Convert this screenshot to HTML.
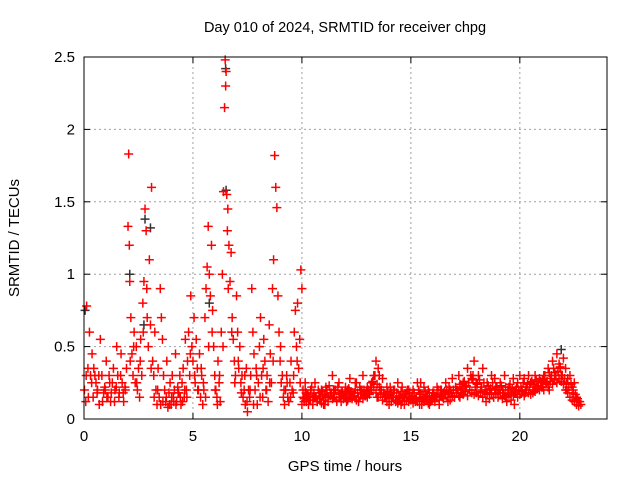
<!DOCTYPE html>
<html><head><meta charset="utf-8"><style>
body{margin:0;background:#fff;}
svg{display:block;font-family:"Liberation Sans",sans-serif;}
</style></head><body>
<svg id="chart" width="640" height="480">
<text x="345" y="32" font-size="14.5" text-anchor="middle">Day 010 of 2024, SRMTID for receiver chpg</text>
<text x="345" y="471" font-size="15" text-anchor="middle">GPS time / hours</text>
<text transform="translate(19,238) rotate(-90)" font-size="15" text-anchor="middle">SRMTID / TECUs</text>
<g id="grid"></g>
<g id="marks"></g>
<rect x="84" y="57" width="523" height="362" fill="none" stroke="#000" stroke-width="1"/>
<g id="ticks"></g>
</svg>
<script>
const xTicks=[0,5,10,15,20];
const yTicks=[0,0.5,1,1.5,2,2.5];
const yTickLabels=["0","0.5","1","1.5","2","2.5"];
const hours=[
0.02,0.08,0.12,0.18,0.25,0.3,0.37,0.42,0.5,0.55,0.62,0.7,0.75,0.82,0.9,0.95,1.02,1.1,1.15,1.22,1.3,1.35,1.42,1.5,1.55,1.62,1.7,1.75,1.82,1.9,1.95,
2.02,2.05,2.08,2.1,2.15,2.2,2.25,2.3,2.35,2.4,2.45,2.5,2.55,2.6,2.65,2.7,2.75,2.8,2.85,2.9,2.95,3.0,3.05,3.1,3.15,3.2,3.25,3.3,
3.35,3.4,3.45,3.5,3.55,3.6,3.65,3.7,3.75,3.8,3.85,3.9,3.95,4.0,4.05,4.1,4.15,4.2,4.25,4.3,4.35,4.4,4.45,4.5,4.55,4.6,4.65,4.7,4.75,
4.8,4.85,4.9,4.95,5.0,5.05,5.1,5.15,5.2,5.25,5.3,5.35,5.4,5.45,5.5,5.55,5.6,5.65,5.7,5.75,5.8,5.85,5.9,5.95,6.0,6.05,6.1,6.15,6.2,6.25,
6.3,6.35,6.4,6.45,6.48,6.5,6.52,6.55,6.58,6.6,6.65,6.7,6.75,6.8,6.85,6.9,6.95,7.0,7.05,7.1,7.15,7.2,7.25,7.3,7.35,7.4,7.45,7.5,7.55,
7.6,7.65,7.7,7.75,7.8,7.85,7.9,7.95,8.0,8.05,8.1,8.15,8.2,8.25,8.3,8.35,8.4,8.45,8.5,8.55,8.6,8.65,8.7,8.75,8.8,8.85,8.9,8.95,9.0,9.05,9.1,9.15,9.2,9.25,9.3,9.35,9.4,9.45,9.5,9.55,9.6,9.65,9.7,9.75,9.8,9.85,9.9,9.95,10.0,10.05,
10.1,10.2,10.3,10.4,10.5,10.6,10.7,10.8,10.9,11.0,
11.1,11.2,11.3,11.4,11.5,11.6,11.7,11.8,11.9,12.0,
12.1,12.2,12.3,12.4,12.5,12.6,12.7,12.8,12.9,13.0,
13.1,13.2,13.3,13.4,13.5,13.6,13.7,13.8,13.9,14.0,
14.1,14.2,14.3,14.4,14.5,14.6,14.7,14.8,14.9,15.0,
15.1,15.2,15.3,15.4,15.5,15.6,15.7,15.8,15.9,16.0,
16.1,16.2,16.3,16.4,16.5,16.6,16.7,16.8,16.9,17.0,
17.1,17.2,17.3,17.4,17.5,17.6,17.7,17.8,17.9,18.0,
18.1,18.2,18.3,18.4,18.5,18.6,18.7,18.8,18.9,19.0,
19.1,19.2,19.3,19.4,19.5,19.6,19.7,19.8,19.9,20.0,
20.1,20.2,20.3,20.4,20.5,20.6,20.7,20.8,20.9,21.0,
21.1,21.2,21.3,21.4,21.5,21.6,21.7,21.8,21.9,22.0,
22.1,22.2,22.3,22.4,22.5,22.6,22.7,22.8,
10.15,10.55,11.05,11.45,12.05,12.45,12.85,13.45,13.55,14.05,14.55,15.05,15.45,15.85,16.35,16.75,17.25,17.65,17.85,18.45,18.85,19.35,19.75,20.25,20.65,21.05,21.35,21.65,21.85,22.15,22.45];
const tecu=[
0.2,0.12,0.78,0.35,0.6,0.3,0.45,0.15,0.3,0.25,0.2,0.1,0.55,0.3,0.18,0.22,0.4,0.15,0.3,0.12,0.25,0.35,0.2,0.5,0.3,0.18,0.45,0.25,0.12,0.2,0.35,
1.33,1.83,1.2,0.95,0.7,0.45,0.3,0.6,0.25,0.5,0.2,0.35,0.15,0.55,0.3,0.8,0.95,1.45,1.3,0.7,0.5,1.1,0.65,1.6,0.4,0.3,0.6,0.2,
0.1,0.35,0.15,0.9,0.7,0.55,0.3,0.2,0.12,0.4,0.08,0.18,0.25,0.1,0.3,0.15,0.2,0.45,0.12,0.22,0.18,0.3,0.1,0.25,0.35,0.15,0.55,0.2,0.4,
0.6,0.3,0.85,0.5,0.4,0.7,0.25,0.55,0.35,0.2,0.45,0.15,0.3,0.1,0.2,0.7,0.9,1.05,1.33,1.0,0.85,1.2,0.75,0.5,0.3,0.2,0.15,0.4,0.25,0.12,
0.6,1.0,1.57,2.15,2.48,2.3,2.4,1.55,1.3,1.45,1.2,0.95,1.15,0.7,0.55,0.4,0.3,0.85,0.6,0.35,0.5,0.25,0.3,0.15,0.2,0.1,0.35,0.05,0.2,
0.15,0.3,0.9,0.6,0.45,0.2,0.35,0.1,0.25,0.5,0.7,0.3,0.15,0.55,0.4,0.2,0.3,0.12,0.65,0.45,0.25,0.9,1.1,1.82,1.6,1.46,0.85,0.6,0.4,0.25,0.3,0.15,0.1,0.2,0.3,0.15,0.12,0.25,0.4,0.2,0.18,0.6,0.75,0.5,0.8,0.35,0.55,1.03,0.9,0.2,
0.12,0.18,0.1,0.2,0.15,0.25,0.12,0.18,0.2,0.1,
0.22,0.15,0.18,0.3,0.2,0.12,0.25,0.18,0.15,0.22,
0.2,0.28,0.15,0.18,0.25,0.12,0.2,0.3,0.16,0.22,
0.18,0.25,0.3,0.4,0.35,0.2,0.28,0.15,0.22,0.1,
0.18,0.2,0.12,0.25,0.15,0.22,0.1,0.18,0.2,0.14,
0.2,0.12,0.25,0.18,0.1,0.22,0.15,0.2,0.12,0.18,
0.15,0.22,0.1,0.2,0.18,0.25,0.12,0.2,0.28,0.15,
0.2,0.3,0.18,0.25,0.22,0.35,0.2,0.28,0.4,0.25,
0.3,0.2,0.35,0.18,0.25,0.2,0.3,0.15,0.22,0.18,
0.25,0.2,0.3,0.12,0.22,0.18,0.28,0.2,0.25,0.3,
0.2,0.28,0.22,0.3,0.25,0.18,0.3,0.22,0.28,0.25,
0.3,0.25,0.35,0.28,0.4,0.32,0.45,0.38,0.3,0.42,
0.35,0.28,0.3,0.22,0.25,0.15,0.12,0.1,
0.25,0.15,0.1,0.2,0.12,0.25,0.2,0.15,0.3,0.22,0.1,0.15,0.25,0.1,0.2,0.18,0.15,0.25,0.3,0.12,0.28,0.15,0.1,0.18,0.2,0.22,0.2,0.3,0.35,0.2,0.18];
const earlyHours=[0.1,0.2,0.35,0.45,0.6,0.68,0.85,0.98,1.05,1.18,1.25,1.4,1.48,1.6,1.68,1.8,1.88,2.12,2.28,2.42,2.58,2.72,2.88,3.08,3.22,3.38,3.52,3.62,3.78,3.92,4.02,4.12,4.22,4.32,4.42,4.52,4.62,4.72,4.88,5.08,5.22,5.38,5.48,5.58,5.72,5.88,6.02,6.12,6.22,6.38,6.62,6.78,6.92,7.08,7.22,7.38,7.48,7.62,7.78,7.92,8.08,8.22,8.38,8.52,8.68,9.02,9.18,9.32,9.48,9.62,9.78,9.92];
const earlyTecu=[0.3,0.15,0.25,0.35,0.18,0.3,0.12,0.2,0.15,0.25,0.18,0.12,0.22,0.15,0.3,0.18,0.22,0.4,0.5,0.25,0.4,0.6,0.9,0.35,0.15,0.2,0.1,0.12,0.15,0.1,0.15,0.12,0.1,0.18,0.15,0.12,0.2,0.15,0.45,0.3,0.2,0.35,0.25,0.15,0.5,0.6,0.2,0.1,0.3,0.5,0.9,0.6,0.25,0.4,0.18,0.3,0.12,0.2,0.1,0.3,0.15,0.35,0.2,0.25,0.4,0.5,0.2,0.25,0.15,0.3,0.4,0.25];
const bandHoursB=[10.05,10.15,10.25,10.35,10.45,10.55,10.65,10.75,10.85,10.95,11.05,11.15,11.25,11.35,11.45,11.55,11.65,11.75,11.85,11.95,12.05,12.15,12.25,12.35,12.45,12.55,12.65,12.75,12.85,12.95,13.05,13.15,13.25,13.35,13.45,13.55,13.65,13.75,13.85,13.95,14.05,14.15,14.25,14.35,14.45,14.55,14.65,14.75,14.85,14.95,15.05,15.15,15.25,15.35,15.45,15.55,15.65,15.75,15.85,15.95,16.05,16.15,16.25,16.35,16.45,16.55,16.65,16.75,16.85,16.95,17.05,17.15,17.25,17.35,17.45,17.55,17.65,17.75,17.85,17.95,18.05,18.15,18.25,18.35,18.45,18.55,18.65,18.75,18.85,18.95,19.05,19.15,19.25,19.35,19.45,19.55,19.65,19.75,19.85,19.95,20.05,20.15,20.25,20.35,20.45,20.55,20.65,20.75,20.85,20.95,21.05,21.15,21.25,21.35,21.45,21.55,21.65,21.75,21.85,21.95,22.05,22.15,22.25,22.35,22.45,22.55,22.65,22.75];
const bandTecuB=[0.15,0.2,0.17,0.13,0.22,0.18,0.15,0.2,0.16,0.19,0.17,0.2,0.23,0.18,0.15,0.2,0.22,0.17,0.19,0.16,0.18,0.21,0.19,0.16,0.2,0.18,0.22,0.2,0.17,0.19,0.2,0.22,0.26,0.3,0.24,0.22,0.2,0.18,0.16,0.19,0.17,0.15,0.2,0.18,0.16,0.19,0.15,0.17,0.2,0.18,0.16,0.18,0.15,0.2,0.17,0.14,0.19,0.16,0.18,0.15,0.18,0.16,0.2,0.17,0.15,0.19,0.2,0.22,0.18,0.2,0.22,0.2,0.24,0.21,0.26,0.23,0.25,0.3,0.27,0.22,0.24,0.27,0.22,0.25,0.2,0.23,0.21,0.25,0.2,0.22,0.2,0.23,0.18,0.22,0.2,0.24,0.21,0.19,0.22,0.2,0.22,0.25,0.2,0.24,0.22,0.26,0.24,0.27,0.23,0.26,0.27,0.3,0.26,0.32,0.3,0.35,0.3,0.33,0.36,0.3,0.28,0.25,0.22,0.24,0.2,0.17,0.14,0.12];
const bandHoursC=[10.0,10.1,10.2,10.3,10.4,10.5,10.6,10.7,10.8,10.9,11.0,11.1,11.2,11.3,11.4,11.5,11.6,11.7,11.8,11.9,12.0,12.1,12.2,12.3,12.4,12.5,12.6,12.7,12.8,12.9,13.0,13.1,13.2,13.3,13.4,13.5,13.6,13.7,13.8,13.9,14.0,14.1,14.2,14.3,14.4,14.5,14.6,14.7,14.8,14.9,15.0,15.1,15.2,15.3,15.4,15.5,15.6,15.7,15.8,15.9,16.0,16.1,16.2,16.3,16.4,16.5,16.6,16.7,16.8,16.9,17.0,17.1,17.2,17.3,17.4,17.5,17.6,17.7,17.8,17.9,18.0,18.1,18.2,18.3,18.4,18.5,18.6,18.7,18.8,18.9,19.0,19.1,19.2,19.3,19.4,19.5,19.6,19.7,19.8,19.9,20.0,20.1,20.2,20.3,20.4,20.5,20.6,20.7,20.8,20.9,21.0,21.1,21.2,21.3,21.4,21.5,21.6,21.7,21.8,21.9,22.0,22.1,22.2,22.3,22.4,22.5,22.6,22.7];
const bandTecuC=[0.1,0.14,0.12,0.16,0.13,0.1,0.15,0.12,0.14,0.11,0.13,0.15,0.12,0.16,0.14,0.18,0.13,0.15,0.12,0.14,0.15,0.13,0.17,0.14,0.16,0.13,0.15,0.18,0.14,0.16,0.15,0.17,0.2,0.22,0.18,0.15,0.17,0.13,0.15,0.12,0.14,0.12,0.15,0.13,0.11,0.14,0.12,0.15,0.13,0.12,0.13,0.11,0.14,0.12,0.1,0.13,0.12,0.15,0.11,0.13,0.14,0.12,0.15,0.13,0.16,0.14,0.17,0.15,0.13,0.16,0.15,0.18,0.16,0.2,0.17,0.19,0.16,0.2,0.18,0.17,0.18,0.16,0.19,0.15,0.18,0.17,0.14,0.18,0.15,0.17,0.15,0.18,0.14,0.16,0.15,0.17,0.13,0.16,0.18,0.15,0.17,0.19,0.16,0.2,0.18,0.17,0.2,0.19,0.21,0.2,0.22,0.2,0.24,0.22,0.26,0.24,0.27,0.25,0.28,0.26,0.24,0.2,0.18,0.15,0.13,0.12,0.1,0.09];
const darkHours=[0.05,2.1,2.8,2.75,6.5,6.52,21.9,3.05,5.75];
const darkTecu=[0.75,1.0,1.38,0.65,2.42,1.58,0.48,1.32,0.8];

const NS="http://www.w3.org/2000/svg";
const X0=84,X1=607,Y0=419,Y1=57,XMAX=24,YMAX=2.5;
function xs(h){return X0+h/XMAX*(X1-X0);}
function ys(v){return Y0-v/YMAX*(Y0-Y1);}
const grid=document.getElementById('grid'),ticks=document.getElementById('ticks'),marks=document.getElementById('marks');
function mk(tag,attrs,parent){const e=document.createElementNS(NS,tag);for(const k in attrs)e.setAttribute(k,attrs[k]);parent.appendChild(e);return e;}
yTicks.forEach((t,i)=>{
  const y=ys(t);
  if(i>0&&i<yTicks.length-1){const g=mk('line',{x1:X0,x2:X1,y1:y,y2:y,stroke:'#a0a0a0','stroke-dasharray':'2,3'},grid);
  
  }
  mk('line',{x1:X0,x2:X0+6,y1:y,y2:y,stroke:'#000'},ticks);
  mk('line',{x1:X1,x2:X1-6,y1:y,y2:y,stroke:'#000'},ticks);
  const l=mk('text',{x:X0-9,y:y+5,'font-size':15,'text-anchor':'end'},ticks);l.textContent=yTickLabels[i];
  
  
});
xTicks.forEach(t=>{
  const x=xs(t);
  if(t>0){const g=mk('line',{x1:x,x2:x,y1:Y0,y2:Y1,stroke:'#a0a0a0','stroke-dasharray':'2,3'},grid);
  
  }
  mk('line',{x1:x,x2:x,y1:Y0,y2:Y0-6,stroke:'#000'},ticks);
  mk('line',{x1:x,x2:x,y1:Y1,y2:Y1+6,stroke:'#000'},ticks);
  const l=mk('text',{x:x,y:Y0+22,'font-size':15,'text-anchor':'middle'},ticks);l.textContent=String(t);
  
  
});
function plus(h,v,color){
  const x=xs(h),y=ys(v);
  const p=mk('path',{d:`M${x-4.5} ${y}H${x+4.5}M${x} ${y-4.5}V${y+4.5}`,stroke:color,'stroke-width':1.5,fill:'none'},marks);
  
  
}
function series(hs,vs,color){const n=Math.min(hs.length,vs.length);for(let i=0;i<n;i++)plus(hs[i],vs[i],color);}
series(darkHours,darkTecu,'#333');
series(hours,tecu,'#ff0000');
series(earlyHours,earlyTecu,'#ff0000');
series(bandHoursB,bandTecuB,'#ff0000');
series(bandHoursC,bandTecuC,'#ff0000');
</script>
</body></html>
